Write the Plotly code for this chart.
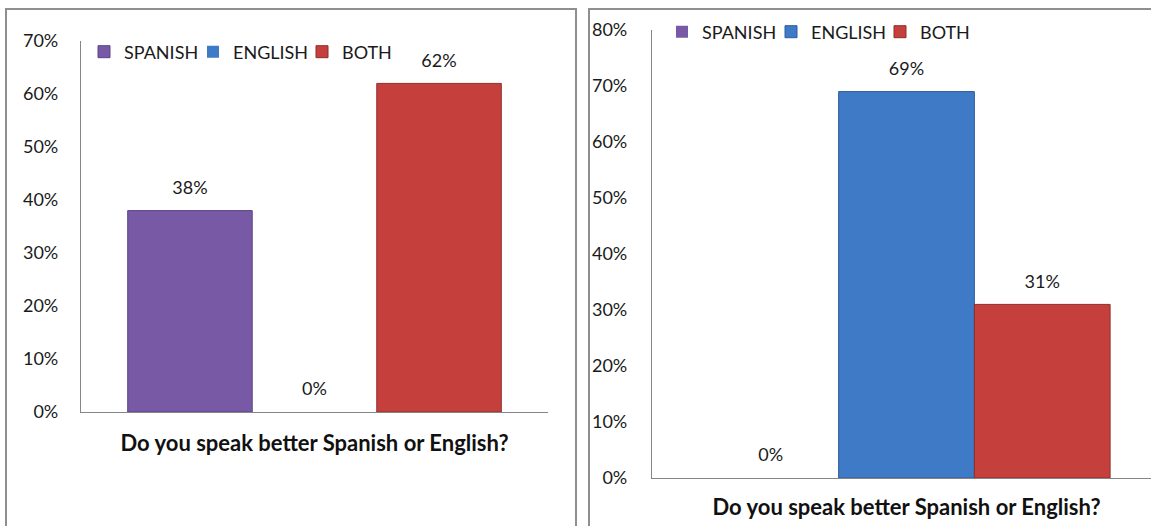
import plotly.graph_objects as go

# Survey answers, one clustered group per panel
series_names = ["SPANISH", "ENGLISH", "BOTH"]
series_colors = ["#7859A5", "#3F7AC7", "#C5403C"]
edge_colors = ["#5B4583", "#2F5C98", "#8F2E2B"]
question = ["Do you speak better Spanish or English?"]

left_values = [0.38, 0.00, 0.62]
right_values = [0.00, 0.69, 0.31]

left_ticks = [0.0, 0.1, 0.2, 0.3, 0.4, 0.5, 0.6, 0.7]
right_ticks = [0.0, 0.1, 0.2, 0.3, 0.4, 0.5, 0.6, 0.7, 0.8]

W, H = 1151, 526
FONT = "Lato, 'Open Sans', sans-serif"
TEXT = "#1a1a1a"
AXIS = "#868686"
FRAME = "#8f8f8f"

left_gap = 0.2
right_gap = 0.1925

fig = go.Figure()

panels = [
    dict(values=left_values, xa="x", ya="y", legend="legend"),
    dict(values=right_values, xa="x2", ya="y2", legend="legend2"),
]

for p in panels:
    for name, val, col, edge in zip(series_names, p["values"], series_colors, edge_colors):
        fig.add_trace(go.Bar(
            x=question, y=[val], name=name,
            marker=dict(color=col, line=dict(color=edge, width=1 if val > 0 else 0)),
            xaxis=p["xa"], yaxis=p["ya"], legend=p["legend"],
            hoverinfo="skip",
        ))
    # value labels sit above each bar in the same grouped slots
    for name, val in zip(series_names, p["values"]):
        fig.add_trace(go.Scatter(
            x=question, y=[val], mode="markers+text",
            marker=dict(size=18, color="rgba(0,0,0,0)"),
            text=[f"{round(val * 100)}%"], textposition="top center",
            textfont=dict(family=FONT, size=18, color=TEXT),
            xaxis=p["xa"], yaxis=p["ya"], showlegend=False,
            hoverinfo="skip", cliponaxis=False,
        ))

def px_x(v):
    return v / W

def px_y(v):
    return (H - v) / H

yaxis_common = dict(
    showline=True, linecolor=AXIS, linewidth=1.3, showgrid=False, zeroline=False,
    ticks="", tickformat=".0%", tickfont=dict(family=FONT, size=18, color=TEXT),
    fixedrange=True, automargin=False,
)
xaxis_common = dict(
    showline=True, linecolor=AXIS, linewidth=1.3, showgrid=False, zeroline=False,
    ticks="", tickfont=dict(family=FONT, size=22, color="#111111", weight="bold"),
    fixedrange=True, automargin=False,
)

fig.update_layout(
    width=W, height=H, autosize=False,
    margin=dict(l=0, r=0, t=0, b=0, pad=0),
    paper_bgcolor="white", plot_bgcolor="white",
    barmode="group", bargap=left_gap,
    scattermode="group", scattergap=left_gap,
    font=dict(family=FONT, color=TEXT),
    xaxis=dict(domain=[px_x(81), px_x(548)], anchor="y", range=[-0.5, 0.5],
               ticklabelstandoff=11, **xaxis_common),
    yaxis=dict(domain=[px_y(412), px_y(41)], anchor="x", range=[0, 0.7],
               tickvals=left_ticks, ticklabelstandoff=18, **yaxis_common),
    xaxis2=dict(domain=[px_x(652), 1.0], anchor="y2", range=[-0.5, -0.5 + 499 / 509],
                ticklabelstandoff=9, **xaxis_common),
    yaxis2=dict(domain=[px_y(478), px_y(30)], anchor="x2", range=[0, 0.8],
                tickvals=right_ticks, ticklabelstandoff=20, **yaxis_common),
    legend=dict(orientation="h", x=px_x(84), xanchor="left", y=px_y(52), yanchor="middle",
                font=dict(family=FONT, size=18, color=TEXT), entrywidth=64,
                bgcolor="rgba(0,0,0,0)", traceorder="normal"),
    legend2=dict(orientation="h", x=px_x(662), xanchor="left", y=px_y(32), yanchor="middle",
                 font=dict(family=FONT, size=18, color=TEXT), entrywidth=64,
                 bgcolor="rgba(0,0,0,0)", traceorder="normal"),
    shapes=[
        dict(type="rect", xref="paper", yref="paper",
             x0=px_x(6), x1=px_x(576), y0=-0.05, y1=px_y(9),
             line=dict(color=FRAME, width=2), fillcolor="rgba(0,0,0,0)", layer="below"),
        dict(type="rect", xref="paper", yref="paper",
             x0=px_x(589), x1=1.05, y0=-0.05, y1=px_y(9),
             line=dict(color=FRAME, width=2), fillcolor="rgba(0,0,0,0)", layer="below"),
    ],
)

fig.write_html("out.html")
